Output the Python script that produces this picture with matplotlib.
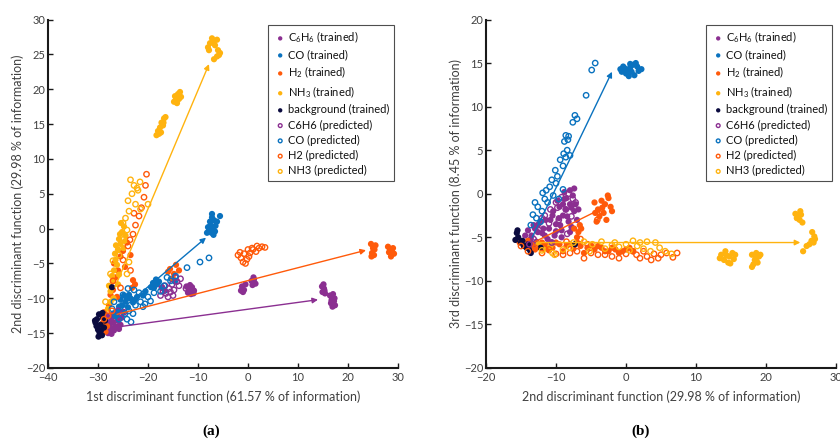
import matplotlib
matplotlib.use("Agg")
import matplotlib.pyplot as plt
import numpy as np

plt.rcParams['font.family'] = ['Lato', 'DejaVu Sans']
plt.rcParams['mathtext.fontset'] = 'custom'
plt.rcParams['mathtext.rm'] = 'Lato'
plt.rcParams['mathtext.it'] = 'Lato:italic'

# ---- colours ----
C_BENZ = '#8B2F91'
C_CO = '#0A72BF'
C_H2 = '#FF5A0A'
C_NH3 = '#FFB30F'
C_BG = '#0B0B3F'

# ---- panel (a): 1st vs 2nd discriminant function ----
bg_tr_a = [(-30.2, -13.0), (-30.5, -13.5), (-29.8, -12.3), (-29.5, -13.8), (-30.0, -14.5),
           (-29.6, -15.2), (-29.9, -15.5), (-29.2, -15.3), (-29.0, -12.8), (-28.6, -13.2),
           (-30.3, -14.0), (-29.4, -14.6), (-28.8, -14.2), (-27.2, -8.4), (-30.6, -13.2),
           (-29.7, -14.9), (-29.1, -12.1)]

benz_tr_a = [(-28.5, -13.0), (-28.0, -13.8), (-27.5, -14.2), (-27.0, -13.5), (-26.5, -14.0),
             (-27.8, -14.8), (-26.0, -13.2), (-25.5, -13.8), (-28.2, -12.5), (-27.2, -12.8),
             (-26.8, -14.6), (-25.8, -14.4), (-28.6, -14.3), (-26.2, -12.6), (-27.6, -13.4),
             (-26.9, -12.2), (-25.9, -12.0), (-25.3, -12.8), (-28.0, -15.0), (-27.3, -15.1),
             (-12.3, -8.3), (-11.8, -8.6), (-11.2, -8.4), (-12.0, -9.2), (-11.4, -9.4),
             (-10.8, -8.9), (-11.9, -8.9), (-11.6, -8.1), (-10.9, -9.3),
             (-1.2, -8.3), (-0.8, -8.8), (-1.0, -9.1), (-0.5, -8.0), (0.7, -7.5), (1.2, -7.3),
             (1.5, -7.9), (0.9, -8.1), (-1.4, -8.9), (1.1, -7.0),
             (14.8, -8.3), (15.2, -8.6), (14.9, -9.1), (15.4, -9.3), (15.1, -8.0), (15.3, -8.9),
             (16.4, -9.6), (16.8, -10.0), (17.2, -10.4), (16.6, -10.7), (17.4, -11.0),
             (17.0, -9.4), (16.9, -11.2), (17.3, -10.0), (16.7, -10.3)]

co_tr_a = [(-7.2, 1.6), (-6.8, 1.2), (-7.5, 0.5), (-7.0, 0.0), (-6.5, 0.4), (-7.8, -0.3),
           (-7.3, -0.6), (-6.9, -0.9), (-8.0, 0.2), (-6.2, 1.0), (-5.6, 1.8), (-7.2, 2.1),
           (-7.6, 1.0), (-6.6, -0.4), (-8.2, -0.6), (-7.4, -0.2),
           (-26.0, -11.8), (-25.2, -11.0), (-24.5, -10.5), (-24.0, -11.3), (-23.5, -10.0),
           (-23.0, -10.6), (-22.2, -9.8), (-25.5, -10.2), (-24.8, -9.6), (-19.0, -7.8),
           (-18.4, -7.3), (-18.8, -8.5), (-17.8, -7.6), (-20.5, -9.0), (-21.0, -9.6),
           (-17.2, -8.4), (-16.6, -8.9), (-15.4, -7.2), (-14.6, -7.6), (-25.8, -11.2),
           (-24.2, -10.0), (-23.8, -9.5), (-22.6, -10.2), (-26.4, -12.4), (-25.0, -12.0),
           (-18.2, -8.0), (-19.4, -8.4)]

h2_tr_a = [(24.6, -2.2), (25.0, -2.8), (24.8, -3.5), (25.3, -3.0), (25.5, -2.4), (24.7, -4.0),
           (25.2, -3.8), (28.0, -2.6), (28.4, -3.0), (28.8, -3.3), (29.2, -3.6), (28.2, -3.4),
           (29.0, -2.8), (28.6, -4.0),
           (-29.0, -13.5), (-28.5, -14.8), (-28.8, -12.0), (-27.8, -11.0), (-27.5, -9.5),
           (-27.0, -8.8), (-26.5, -7.0), (-26.8, -5.0), (-26.0, -6.0), (-25.5, -4.0),
           (-25.0, -3.2), (-24.2, -2.0), (-23.5, -3.8), (-23.2, -8.5), (-23.0, -7.4),
           (-22.6, -8.0), (-16.0, -6.2), (-15.6, -5.8), (-14.8, -6.5), (-15.0, -7.2),
           (-13.8, -6.0), (-14.4, -5.2), (-28.2, -14.0), (-26.2, -9.8), (-24.6, -5.5)]

nh3_tr_a = [(-8.0, 26.0), (-7.6, 26.6), (-6.8, 26.9), (-6.2, 27.1), (-6.6, 26.3), (-7.8, 25.6),
            (-5.6, 25.2), (-6.0, 25.6), (-6.8, 24.3), (-6.2, 24.7), (-5.8, 24.9), (-7.2, 27.3),
            (-14.8, 18.2), (-14.4, 18.8), (-14.0, 19.3), (-13.6, 19.6), (-13.4, 18.9),
            (-14.2, 18.0), (-13.8, 18.6), (-14.6, 19.0),
            (-18.3, 13.4), (-18.0, 14.0), (-17.6, 14.5), (-17.3, 15.2), (-16.8, 15.8),
            (-16.5, 16.0), (-17.8, 13.6), (-17.0, 14.8), (-17.4, 13.8), (-16.9, 15.2),
            (-27.5, -9.0), (-27.0, -7.5), (-26.8, -6.0), (-26.5, -4.5), (-26.0, -3.0),
            (-25.8, -1.5), (-25.2, -0.5), (-24.8, 0.3), (-25.5, -2.2), (-26.2, -5.2),
            (-24.5, -1.0), (-27.5, -10.5), (-28.0, -11.5), (-26.0, -8.0), (-27.2, -6.8),
            (-26.6, -3.6), (-25.6, -0.8), (-26.4, -2.4), (-24.9, -2.8), (-27.8, -8.2),
            (-25.4, 0.8), (-26.9, -10.0), (-25.8, -6.6), (-24.6, -1.8)]

benz_pr_a = [(-17.5, -9.6), (-17.0, -9.0), (-16.4, -9.3), (-15.8, -8.6), (-15.2, -8.0),
             (-14.8, -8.8), (-14.2, -7.6), (-13.8, -8.2), (-14.5, -7.0), (-16.0, -9.8),
             (-15.5, -9.1), (-13.5, -7.2), (-17.2, -8.5), (-16.6, -8.2), (-15.0, -9.6),
             (-27.5, -12.5), (-26.5, -13.5), (-25.5, -12.4), (-24.8, -12.0), (-26.0, -11.8),
             (-11.6, -8.4), (-11.0, -9.0), (-12.4, -8.6)]

co_pr_a = [(-26.5, -12.5), (-25.8, -13.0), (-24.6, -12.2), (-23.8, -11.8), (-24.2, -13.0),
           (-22.5, -11.0), (-23.0, -12.2), (-21.5, -10.5), (-21.0, -11.2), (-20.0, -9.8),
           (-19.5, -10.4), (-18.8, -9.2), (-17.5, -9.0), (-16.8, -8.2), (-15.5, -7.5),
           (-14.5, -6.8), (-12.2, -5.6), (-9.6, -4.8), (-7.8, -4.2), (-26.8, -10.5),
           (-25.0, -9.5), (-22.8, -8.8), (-27.2, -11.5), (-24.0, -8.6), (-21.8, -9.2),
           (-23.4, -13.4), (-20.6, -10.8), (-16.2, -7.0)]

h2_pr_a = [(-20.3, 7.8), (-20.5, 6.2), (-20.8, 4.5), (-21.3, 3.0), (-21.8, 1.8), (-22.5, 0.5),
           (-23.0, -0.8), (-24.0, -2.5), (-25.0, -4.5), (-23.5, -6.0), (-27.0, -7.5),
           (-25.5, -8.5), (-22.8, 2.2), (-23.6, -1.6),
           (-2.0, -3.8), (-1.4, -4.2), (-0.8, -3.6), (-0.2, -4.4), (0.4, -3.5), (1.0, -3.0),
           (1.6, -3.3), (2.2, -2.8), (2.8, -2.6), (3.4, -2.7), (-1.0, -4.8), (0.0, -3.0),
           (0.8, -2.8), (1.8, -2.5), (-0.5, -5.0), (-1.6, -3.4), (0.2, -4.0),
           (-28.8, -13.0), (-28.0, -12.5), (-27.2, -11.8)]

nh3_pr_a = [(-23.5, 7.0), (-22.8, 6.2), (-23.2, 5.0), (-22.0, 5.5), (-24.0, 4.0), (-22.5, 3.5),
            (-23.8, 2.5), (-21.5, 2.8), (-24.5, 1.5), (-20.0, 3.5), (-24.8, -1.5),
            (-25.8, -3.8), (-24.2, -6.5), (-23.8, -4.8), (-27.5, -6.5), (-28.5, -10.5),
            (-25.0, 0.8), (-21.6, 6.7), (-22.2, 5.8), (-24.2, -0.2), (-27.0, -4.6)]

# arrows: (start, end) per gas
arrows_a = {
    'benz': ((-26.0, -14.1), (14.0, -10.2)),
    'co': ((-26.0, -12.0), (-8.4, -1.3)),
    'h2': ((-26.2, -12.3), (23.6, -3.1)),
    'nh3': ((-26.6, -8.4), (-7.8, 23.6)),
}

# ---- panel (b): 2nd vs 3rd discriminant function ----
bg_tr_b = [(-15.6, -4.5), (-15.4, -5.0), (-15.8, -5.3), (-15.0, -5.6), (-14.6, -6.0),
           (-14.2, -6.2), (-13.8, -6.4), (-13.6, -6.8), (-14.8, -5.4), (-12.2, -6.2),
           (-7.3, -5.8), (-15.5, -4.2), (-14.0, -5.8)]

benz_tr_b = [(-14.0, -4.2), (-13.5, -4.8), (-13.0, -4.0), (-12.5, -3.5), (-12.0, -4.5),
             (-11.5, -3.0), (-11.0, -4.0), (-10.5, -2.5), (-10.0, -3.5), (-9.5, -1.5),
             (-9.0, -2.5), (-8.5, -0.5), (-8.0, -1.2), (-7.6, -0.2), (-7.4, -2.0),
             (-8.2, -3.2), (-9.2, -4.2), (-10.2, -4.8), (-11.2, -5.2), (-8.8, 0.2),
             (-7.8, -3.8), (-12.8, -5.5), (-9.8, -0.8), (-13.2, -3.6), (-12.2, -3.2),
             (-11.8, -4.0), (-10.8, -3.0), (-10.4, -2.0), (-9.6, -2.8), (-9.0, -1.2),
             (-8.6, -1.8), (-8.0, 0.4), (-7.4, 0.6), (-8.4, -2.6), (-7.2, -1.2), (-9.4, -3.6),
             (-10.0, -4.3), (-11.6, -4.8), (-12.6, -4.4), (-13.6, -5.2), (-14.4, -4.8),
             (-8.8, -0.6), (-7.8, -1.6), (-6.8, -1.8), (-7.0, -3.0), (-8.0, -4.4),
             (-9.2, -5.0), (-12.0, -5.8), (-13.0, -6.0), (-10.6, -5.6)]

co_tr_b = [(-0.6, 14.0), (-0.2, 14.4), (0.2, 14.2), (0.6, 14.5), (1.0, 14.8), (1.4, 15.0),
           (0.8, 14.0), (1.2, 13.6), (1.8, 14.1), (0.0, 13.8), (-0.4, 14.6), (1.6, 14.6),
           (0.4, 13.5), (2.2, 14.3), (-0.8, 14.3), (0.6, 14.9)]

h2_tr_b = [(-4.5, -1.0), (-4.0, -1.8), (-3.5, -0.8), (-3.0, -1.2), (-2.5, -0.5), (-2.2, -1.5),
           (-3.8, -2.6), (-3.2, -2.2), (-2.8, -3.0), (-4.2, -3.2), (-2.0, -2.0), (-2.6, -0.2),
           (-3.4, -1.6), (-4.4, -2.2),
           (-7.4, -4.0), (-6.8, -4.4), (-6.4, -4.0), (-7.0, -5.0), (-6.6, -3.6),
           (-15.2, -5.6), (-14.5, -6.0), (-13.5, -5.8), (-12.5, -6.1), (-11.5, -5.9),
           (-10.5, -6.2), (-9.5, -5.8), (-8.5, -6.0), (-7.5, -6.3), (-6.5, -6.0),
           (-5.5, -6.2), (-4.5, -6.4), (-3.5, -6.2), (-2.5, -6.6), (-1.5, -6.4),
           (-0.5, -6.6), (0.5, -6.2), (-9.0, -6.6), (-11.0, -6.5), (-6.0, -6.8),
           (-14.0, -5.4), (-13.0, -6.4), (-12.0, -5.6), (-10.0, -5.6), (-8.0, -5.8),
           (-7.0, -5.6), (-5.0, -5.9), (-4.0, -6.0), (-3.0, -6.6), (-2.0, -6.2),
           (-1.0, -6.8), (0.0, -6.4), (1.0, -6.6)]

nh3_tr_b = [(24.2, -2.3), (24.6, -2.6), (25.0, -2.4), (24.8, -3.0), (25.2, -3.3), (24.4, -2.8),
            (24.9, -2.0),
            (26.6, -4.4), (26.9, -4.9), (26.5, -5.4), (26.2, -5.8), (25.8, -6.0), (25.3, -6.6),
            (26.8, -5.6), (27.0, -5.2),
            (13.6, -7.0), (14.2, -6.6), (14.8, -7.2), (15.2, -6.8), (14.0, -7.6), (14.6, -7.9),
            (15.6, -7.0), (13.4, -7.4), (14.9, -8.0), (14.4, -7.1), (15.4, -7.5),
            (18.0, -7.0), (18.6, -6.8), (19.0, -7.2), (18.4, -7.6), (18.2, -8.1), (18.8, -7.9),
            (18.0, -8.4), (19.2, -7.0), (18.6, -7.4),
            (-12.5, -5.8), (-11.8, -6.4), (-10.8, -6.0)]

benz_pr_b = [(-13.2, -5.2), (-12.4, -4.2), (-11.6, -2.5), (-10.8, -1.8), (-10.0, -1.0),
             (-9.2, -0.4), (-8.6, -1.8), (-7.8, -2.6), (-9.6, -3.0), (-11.0, -3.4),
             (-12.0, -2.8), (-7.2, -1.0), (-8.4, -4.6), (-10.6, -5.6), (-13.8, -5.8),
             (-8.2, 0.0), (-7.6, -0.6), (-9.8, -1.6)]

co_pr_b = [(-4.4, 15.0), (-4.9, 14.2), (-5.7, 11.3), (-7.3, 9.0), (-7.0, 8.6), (-7.6, 8.2),
           (-8.6, 6.7), (-8.3, 6.2), (-8.8, 6.0), (-8.0, 4.4), (-8.6, 4.2), (-9.4, 3.9),
           (-8.9, 4.6), (-10.1, 2.7), (-9.8, 2.0), (-10.9, 0.8), (-11.4, 0.4), (-11.9, 0.1),
           (-13.0, -1.0), (-13.3, -2.4), (-12.6, -1.5), (-12.0, -2.0), (-11.2, -1.0),
           (-10.4, -0.2), (-9.0, 0.5), (-12.2, -3.2), (-13.6, -3.6), (-10.0, 1.2), (-9.6, -0.6),
           (-8.4, 5.0), (-9.0, 3.2), (-11.6, -0.6), (-12.8, -2.8), (-10.6, 1.6), (-8.2, 6.6)]

h2_pr_b = [(-14.0, -6.6), (-12.0, -6.8), (-10.0, -6.9), (-8.0, -6.8), (-6.0, -7.4), (-4.0, -7.0),
           (-2.0, -7.2), (0.0, -6.9), (1.5, -7.0), (2.5, -6.6), (3.0, -7.2), (4.0, -6.9),
           (5.0, -7.0), (5.8, -6.8), (6.7, -7.3), (7.3, -6.8), (3.6, -7.6), (-6.5, -5.2),
           (-8.5, -5.5), (-5.5, -5.8), (-4.1, -3.0), (-3.5, -2.0), (-13.0, -6.2),
           (-11.0, -6.4), (-9.0, -7.0), (-7.0, -6.6), (-5.0, -6.8), (-3.0, -7.0),
           (-1.0, -7.4), (1.0, -6.6), (2.0, -7.4), (4.6, -7.4), (-15.0, -6.0)]

nh3_pr_b = [(-12.0, -6.5), (-10.5, -6.8), (-9.0, -6.4), (-7.5, -5.6), (-6.0, -5.5), (-4.8, -5.8),
            (-3.5, -5.5), (-2.0, -5.9), (-1.0, -6.1), (0.0, -5.8), (1.0, -5.4), (2.0, -5.6),
            (3.0, -5.5), (4.2, -5.6), (2.5, -6.3), (3.5, -6.6), (4.8, -6.2), (0.5, -6.5),
            (-3.0, -6.3), (6.5, -6.9), (-10.2, -7.0), (-5.2, -6.6), (-8.0, -6.2),
            (-1.6, -5.6), (1.6, -6.0), (5.6, -6.6)]

arrows_b = {
    'co': ((-13.4, -5.0), (-2.0, 14.0)),
    'h2': ((-13.0, -5.5), (-3.2, -1.6)),
    'nh3': ((-12.6, -5.6), (24.9, -5.6)),
}

colors = {'benz': C_BENZ, 'co': C_CO, 'h2': C_H2, 'nh3': C_NH3, 'bg': C_BG}

trained_labels = [r'C$_6$H$_6$ (trained)', 'CO (trained)', r'H$_2$ (trained)',
                  r'NH$_3$ (trained)', 'background (trained)']
predicted_labels = ['C6H6 (predicted)', 'CO (predicted)', 'H2 (predicted)', 'NH3 (predicted)']

TXT = '#404040'


def draw_panel(ax, trained, predicted, arrows, xlim, ylim, xlabel, ylabel):
    keys_tr = ['benz', 'co', 'h2', 'nh3', 'bg']
    for k, pts, lab in zip(keys_tr, trained, trained_labels):
        p = np.array(pts)
        ax.scatter(p[:, 0], p[:, 1], s=20, color=colors[k], edgecolors='none', label=lab, zorder=2)
    keys_pr = ['benz', 'co', 'h2', 'nh3']
    for k, pts, lab in zip(keys_pr, predicted, predicted_labels):
        p = np.array(pts)
        ax.scatter(p[:, 0], p[:, 1], s=15, facecolors='none', edgecolors=colors[k],
                   linewidths=1.0, label=lab, zorder=3)
    for k, (start, end) in arrows.items():
        ax.annotate('', xy=end, xytext=start,
                    arrowprops=dict(arrowstyle='-|>', color=colors[k], lw=1.0,
                                    mutation_scale=8, shrinkA=0, shrinkB=0), zorder=4)
    ax.set_xlim(*xlim)
    ax.set_ylim(*ylim)
    for s in ['top', 'right']:
        ax.spines[s].set_visible(False)
    for s in ['left', 'bottom']:
        ax.spines[s].set_linewidth(1.5)
        ax.spines[s].set_color('#1a1a1a')
    ax.tick_params(direction='in', length=3.5, width=1, colors='#1a1a1a',
                   labelcolor=TXT, labelsize=8, pad=2)
    ax.tick_params(axis='x', pad=3)
    ax.set_xlabel(xlabel, fontsize=9, color=TXT, labelpad=5)
    ax.set_ylabel(ylabel, fontsize=9, color=TXT, labelpad=1)
    leg = ax.legend(loc='upper right', bbox_to_anchor=(0.988, 0.984), fontsize=8,
                    frameon=True, fancybox=False, edgecolor='#222222', handletextpad=0.0,
                    borderpad=0.4, labelspacing=0.38, handlelength=1.4, markerscale=0.7,
                    borderaxespad=0)
    leg.get_frame().set_linewidth(0.8)
    for t in leg.get_texts():
        t.set_color('#111111')


fig = plt.figure(figsize=(8.4, 4.41), dpi=100)
ax1 = fig.add_axes([48 / 840, 1 - 368 / 441, 350 / 840, 348.5 / 441])
ax2 = fig.add_axes([486 / 840, 1 - 368 / 441, 350 / 840, 348.5 / 441])

draw_panel(ax1,
           [benz_tr_a, co_tr_a, h2_tr_a, nh3_tr_a, bg_tr_a],
           [benz_pr_a, co_pr_a, h2_pr_a, nh3_pr_a],
           arrows_a, (-40, 30), (-20, 30),
           '1st discriminant function (61.57 % of information)',
           '2nd discriminant function (29.98 % of information)')
ax1.set_xticks(np.arange(-40, 31, 10))
ax1.set_yticks(np.arange(-20, 31, 5))

draw_panel(ax2,
           [benz_tr_b, co_tr_b, h2_tr_b, nh3_tr_b, bg_tr_b],
           [benz_pr_b, co_pr_b, h2_pr_b, nh3_pr_b],
           arrows_b, (-20, 30), (-20, 20),
           '2nd discriminant function (29.98 % of information)',
           '3rd discriminant function (8.45 % of information)')
ax2.set_xticks(np.arange(-20, 31, 10))
ax2.set_yticks(np.arange(-20, 21, 5))

fig.text(211 / 840, 1 - 431 / 441, '(a)', ha='center', va='center', fontsize=11,
         fontweight='bold', family='Liberation Serif')
fig.text(641 / 840, 1 - 431 / 441, '(b)', ha='center', va='center', fontsize=11,
         fontweight='bold', family='Liberation Serif')

fig.savefig('out.png', dpi=100)
